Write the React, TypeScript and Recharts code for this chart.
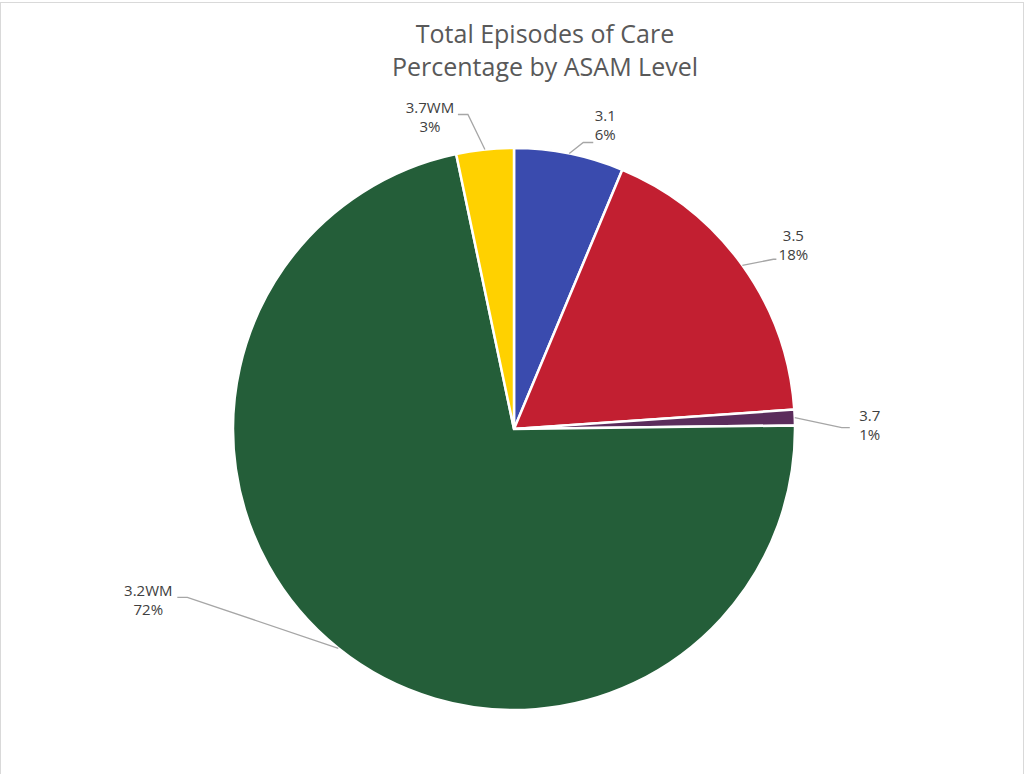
import React from 'react';
import { PieChart, Pie, Cell } from 'recharts';

const levels = ['3.1', '3.5', '3.7', '3.2WM', '3.7WM'];
const shares = [6.3, 17.6, 0.9, 71.9, 3.3];
const colors = ['#3A4BAE', '#C21F31', '#5B2C5C', '#245E39', '#FFD100'];

const titleLines = ['Total Episodes of Care', 'Percentage by ASAM Level'];

// where each label sits relative to its leader-line start on the pie edge
// [elbowDx, elbowDy, endDx, textDx, textDy]
const labelNudge: [number, number, number, number, number][] = [
  [14, -11, 10, 36, -32],
  [31, -6, 3, 51, -24],
  [47, 10, 8, 75, 3],
  [-151, -51, -10, -190, -52],
  [-17, -35, -10, -55, -37],
];

const data = levels.map((name, i) => ({ name, value: shares[i] }));

const RAD = Math.PI / 180;
const FONT = "'Open Sans', sans-serif";

function renderLabel(props: any) {
  const { cx, cy, midAngle, outerRadius, index, percent } = props;
  const sx = cx + outerRadius * Math.cos(-midAngle * RAD);
  const sy = cy + outerRadius * Math.sin(-midAngle * RAD);
  const [ex, ey, hx, tx, ty] = labelNudge[index];
  const mx = sx + ex;
  const my = sy + ey;
  return (
    <g>
      <polyline
        points={`${sx},${sy} ${mx},${my} ${mx + hx},${my}`}
        fill="none"
        stroke="#A6A6A6"
        strokeWidth={1.3}
      />
      <text x={sx + tx} y={sy + ty} textAnchor="middle" fill="#404040" fontSize={15} fontFamily={FONT}>
        {levels[index]}
      </text>
      <text x={sx + tx} y={sy + ty + 19} textAnchor="middle" fill="#404040" fontSize={15} fontFamily={FONT}>
        {`${Math.round(percent * 100)}%`}
      </text>
    </g>
  );
}

export default function App() {
  return (
    <div style={{ position: 'fixed', left: 0, top: 0, width: 1027, height: 774, background: '#fff' }}>
      <div
        style={{
          position: 'absolute', left: 0, top: 2, width: 1024, height: 790,
          border: '1px solid #D9D9D9', boxSizing: 'border-box',
        }}
      />
      <PieChart
        width={1027}
        height={774}
        margin={{ top: 0, right: 0, bottom: 0, left: 0 }}
        style={{ position: 'absolute', left: 0, top: 0 }}
      >
        <text x={545} y={43} textAnchor="middle" fill="#595959" fontSize={25} fontFamily={FONT}>
          {titleLines[0]}
        </text>
        <text x={545} y={76} textAnchor="middle" fill="#595959" fontSize={25} fontFamily={FONT}>
          {titleLines[1]}
        </text>
        <Pie
          data={data}
          dataKey="value"
          nameKey="name"
          cx={514}
          cy={429}
          outerRadius={281}
          startAngle={90}
          endAngle={-270}
          stroke="#FFFFFF"
          strokeWidth={2.5}
          label={renderLabel}
          labelLine={false}
          isAnimationActive={false}
        >
          {data.map((d, i) => (
            <Cell key={d.name} fill={colors[i]} />
          ))}
        </Pie>
      </PieChart>
    </div>
  );
}
